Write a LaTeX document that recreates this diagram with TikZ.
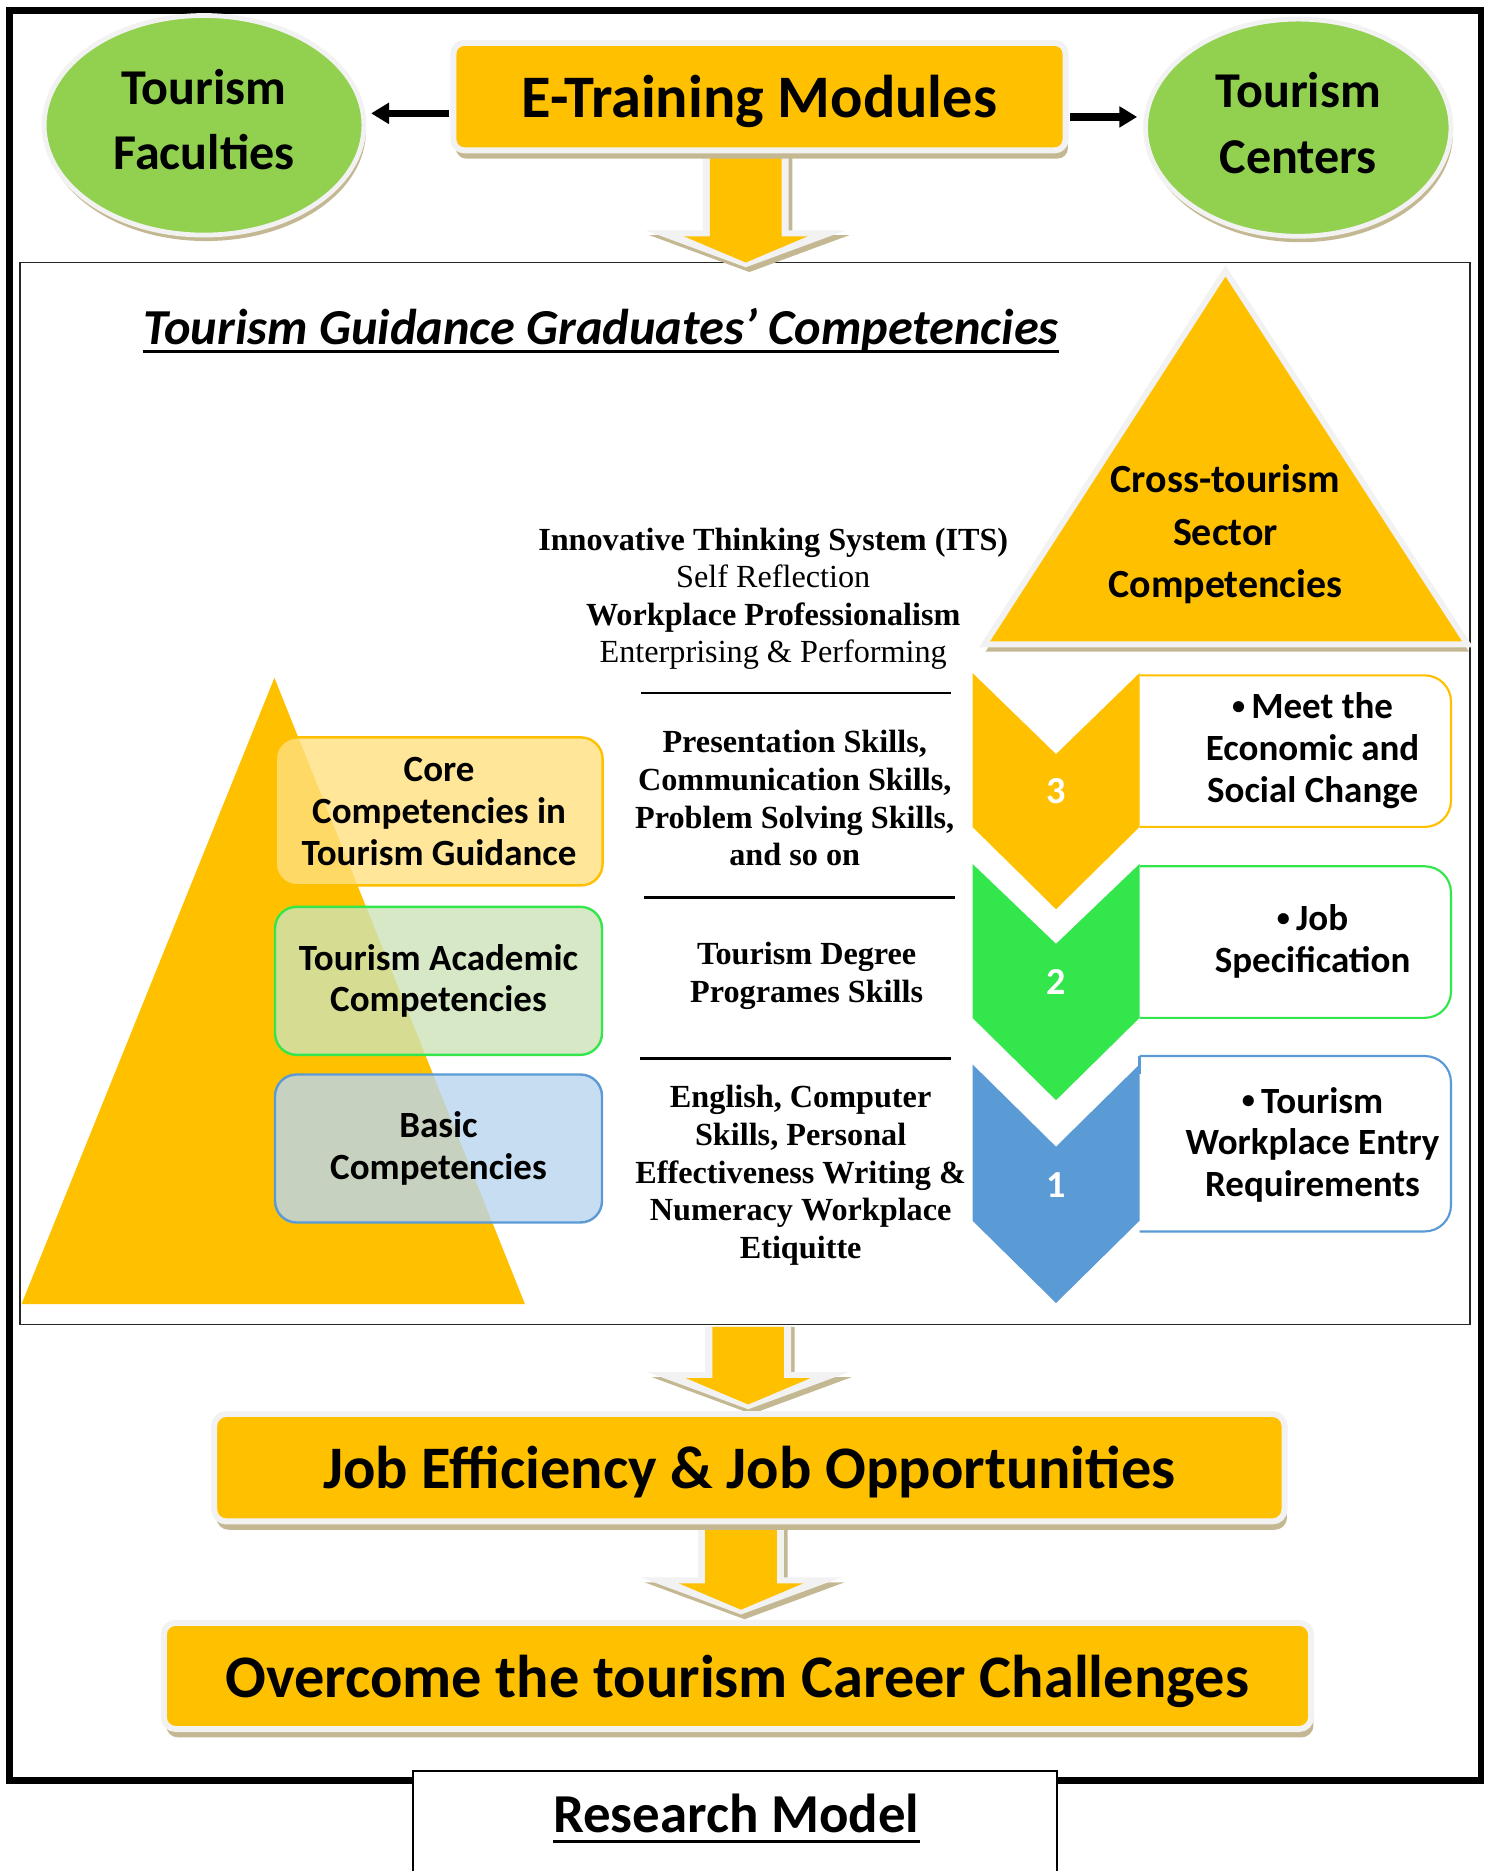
\documentclass[tikz,border=0pt]{standalone}
\usepackage{fontspec}
\setmainfont{Carlito}
\newfontfamily\tnr{Liberation Serif}
\usetikzlibrary{shapes.geometric,arrows.meta,calc,shadows}

\definecolor{orng}{RGB}{255,192,0}
\definecolor{lgrn}{RGB}{146,208,80}
\definecolor{bgrn}{RGB}{51,230,76}
\definecolor{blu}{RGB}{91,155,213}
\definecolor{rimc}{RGB}{242,242,242}
\definecolor{shd}{RGB}{196,184,146}
\definecolor{corefill}{RGB}{255,224,127}
\definecolor{acadfill}{RGB}{204,227,183}
\definecolor{basefill}{RGB}{186,214,239}

% block arrow: centre x, top y, y of the head's back edge, tip y
\newcommand\blkarrow[4]{%
  \fill[shd] (#1-33,#2) -- (#1-33,#3-1) -- (#1-81,#3-1) -- (#1+3,#4+8)
    -- (#1+87,#3-1) -- (#1+39,#3-1) -- (#1+39,#2) -- cycle;
  \fill[rimc] (#1-36,#2) -- (#1-36,#3-5) -- (#1-84,#3-5) -- (#1,#4+4)
    -- (#1+84,#3-5) -- (#1+36,#3-5) -- (#1+36,#2) -- cycle;
  \fill[orng] (#1-30,#2) -- (#1-30,#3) -- (#1-52,#3) -- (#1,#4)
    -- (#1+52,#3) -- (#1+30,#3) -- (#1+30,#2) -- cycle;
}
% small list bullet
\newcommand\bul{\raisebox{0.12em}{\fontsize{11}{12}\selectfont•}\,}

\begin{document}
\begin{tikzpicture}[x=0.5pt,y=-0.5pt,
  every node/.style={inner sep=0pt, align=center},
  tbox/.style={rectangle, rounded corners=4.5pt, fill=orng, draw=rimc, line width=2.5pt,
    general shadow={fill=shd, shadow xshift=1pt, shadow yshift=-3.5pt},
    text depth=0pt, font=\bfseries\fontsize{25.3}{30}\selectfont},
  ell/.style={ellipse, fill=lgrn, draw=rimc, line width=2pt,
    general shadow={fill=shd, shadow xshift=0.8pt, shadow yshift=-2.5pt},
    font=\bfseries\fontsize{21}{27.5}\selectfont},
  lbox/.style={rectangle, rounded corners=9pt, line width=1pt, fill opacity=0.8, text opacity=1,
    minimum width=137pt, minimum height=62pt,
    font=\bfseries\fontsize{15.5}{17.5}\selectfont},
  rtxt/.style={font=\bfseries\fontsize{15.5}{17.5}\selectfont},
  stxt/.style={font=\tnr\fontsize{13.5}{15.7}\selectfont},
  sbtxt/.style={font=\tnr\bfseries\fontsize{13.5}{15.8}\selectfont},
  num/.style={text=white, font=\bfseries\fontsize{16}{18}\selectfont},
  blkarr/.style={line width=3pt, -{Triangle[length=7.5pt,width=8.5pt]}},
  sep/.style={line width=1pt}]

\useasboundingbox (0,0) rectangle (1250,1568);
\fill[white] (0,0) rectangle (1250,1568);

% frames
\draw[line width=2.75pt] (8,9) rectangle (1241,1492);
\draw[line width=0.8pt, black!85] (17,220) rectangle (1232,1110);

% block arrows
\blkarrow{625}{118}{198}{220}
\blkarrow{627}{1112}{1155}{1177}
\blkarrow{621}{1265}{1327}{1349}

% top row
\node[tbox, minimum width=256.5pt, minimum height=45pt] (etm) at (636.5,81) {E-Training Modules};
\node[ell, text depth=5pt, minimum width=134pt, minimum height=92pt] (fac) at (171,105) {Tourism\\Faculties};
\node[ell, text depth=4pt, minimum width=128pt, minimum height=91pt] (cen) at (1088,107) {Tourism\\Centers};
\draw[blkarr] ($(etm.west)+(-1,14)$) -- ($(fac.east)+(4,-10)$);
\draw[blkarr] ($(etm.east)+(1,17)$) -- ($(cen.west)+(-5,-9)$);

% title
\node[font=\bfseries\itshape\fontsize{21.1}{25}\selectfont, anchor=base] (ttl) at (503.5,289)
  {Tourism Guidance Graduates’ Competencies};
\draw[line width=1.4pt] ($(ttl.base west)+(0,5.5)$) -- ($(ttl.base east)+(0,5.5)$);

% cross-sector triangle
\filldraw[fill=orng, draw=rimc, line width=2.5pt,
  general shadow={fill=shd, shadow xshift=0.5pt, shadow yshift=-3pt}]
  (1027,227) -- (1230,540) -- (825,540) -- cycle;
\node[font=\bfseries\fontsize{16.75}{22}\selectfont] (cross) at (1027,448)
  {Cross-tourism\\Sector\\Competencies};

% competency pyramid
\fill[orng] (230,568) -- (440,1093) -- (18,1093) -- cycle;
\node[lbox, draw=orng, fill=corefill] (core) at (368,680) {Core\\Competencies in\\Tourism Guidance};
\node[lbox, draw=bgrn, fill=acadfill] (acad) at (367.5,822) {Tourism Academic\\Competencies};
\node[lbox, draw=blu, fill=basefill] (basic) at (367.5,962.5) {Basic\\Competencies};

% skills text
\node[stxt] (its) at (648,502) {\textbf{Innovative Thinking System (ITS)}\\Self Reflection\\\textbf{Workplace Professionalism}\\Enterprising \& Performing};
\draw[sep] (537,581) -- (797,581);
\node[sbtxt] (pres) at (666,669)
  {Presentation Skills,\\Communication Skills,\\Problem Solving Skills,\\and so on};
\draw[sep] (540,752) -- (800,752);
\node[sbtxt] (deg) at (676,818)
  {Tourism Degree\\Programes Skills};
\draw[sep] (536,887) -- (797,887);
\node[sbtxt] (eng) at (671,985)
  {English, Computer\\Skills, Personal\\Effectiveness Writing \&\\Numeracy Workplace\\Etiquitte};

% requirement boxes (square on the left, rounded on the right)
\begin{scope}
  \clip (955,500) rectangle (1250,1100);
  \draw[orng, line width=0.9pt, rounded corners=11pt, fill=white] (925,566) rectangle (1216,693);
  \draw[bgrn, line width=0.9pt, rounded corners=11pt, fill=white] (925,726) rectangle (1216,853);
  \draw[blu, line width=0.9pt, rounded corners=11pt, fill=white] (925,885) rectangle (1216,1032);
\end{scope}
\draw[blu, line width=0.9pt] (955,885) -- (955,900);

% chevrons
\fill[orng] (815,564) -- (885,632) -- (955,564) -- (955,693) -- (885,762) -- (815,693) -- cycle;
\fill[bgrn] (815,724) -- (885,791) -- (955,724) -- (955,853) -- (885,922) -- (815,853) -- cycle;
\fill[blu] (815,892) -- (885,961) -- (955,892) -- (955,1023) -- (885,1092) -- (815,1023) -- cycle;
\node[num] (n3) at (885,663) {3};
\node[num] (n2) at (885,823) {2};
\node[num] (n1) at (885,993) {1};

\node[rtxt] (r3) at (1100,629) {\bul Meet the\\Economic and\\Social Change};
\node[rtxt] (r2) at (1100,789) {\bul Job\\Specification};
\node[rtxt] (r1) at (1100,959.5) {\bul Tourism\\Workplace Entry\\Requirements};

% outcome boxes
\node[tbox, rounded corners=5pt, minimum width=448.5pt, minimum height=45pt] (job) at (628,1230)
  {Job Efficiency \& Job Opportunities};
\node[tbox, rounded corners=5pt, minimum width=480.75pt, minimum height=44.5pt] (over) at (618,1404.5)
  {Overcome the tourism Career Challenges};

% caption tab
\fill[white] (346,1484) rectangle (886,1568);
\draw[line width=0.7pt] (346,1568) -- (346,1484) -- (886,1484) -- (886,1568);
\node[font=\bfseries\fontsize{23}{28}\selectfont, anchor=base] (rm) at (617,1536) {Research Model};
\draw[line width=1.2pt] ($(rm.base west)+(0,7)$) -- ($(rm.base east)+(0,7)$);
\end{tikzpicture}
\end{document}
